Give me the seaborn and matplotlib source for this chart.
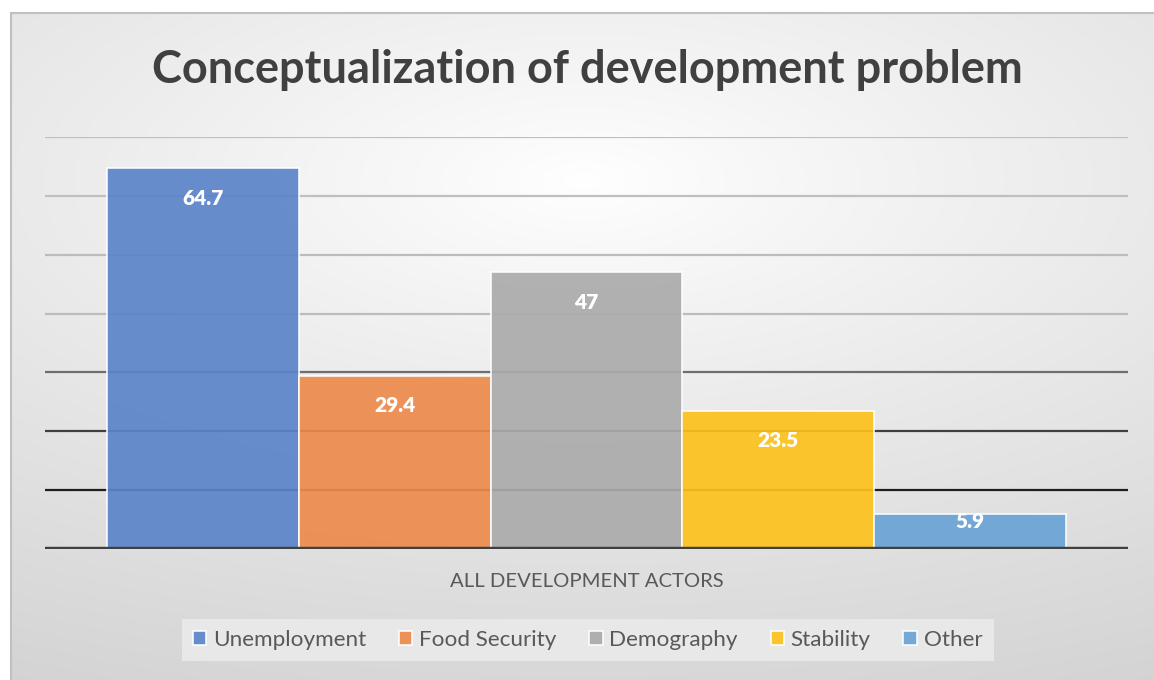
import numpy as np
import pandas as pd
import matplotlib
matplotlib.use("Agg")
import matplotlib.pyplot as plt
import seaborn as sns
from matplotlib.patches import Rectangle

# ---- data ----
group = "ALL DEVELOPMENT ACTORS"
series = ["Unemployment", "Food Security", "Demography", "Stability", "Other"]
values = [64.7, 29.4, 47, 23.5, 5.9]
labels = ["64.7", "29.4", "47", "23.5", "5.9"]
colors = ["#5b84c9", "#ed8b4c", "#ababab", "#fcc21c", "#6aa3d6"]
title = "Conceptualization of development problem"
grid_vals = [10, 20, 30, 40, 50, 60, 70]
grid_colors = ["#1e1e1e", "#404040", "#6e6e6e", "#bcbcbc", "#bcbcbc", "#bfbfbf", "#bfbfbf"]

df = pd.DataFrame({"group": [group] * len(series), "series": series, "value": values})

sns.set_theme(style="white")
plt.rcParams["font.family"] = ["Lato", "DejaVu Sans"]

W, H = 1154, 680
fig = plt.figure(figsize=(W / 100, H / 100), dpi=100)
fig.patch.set_facecolor("white")

# background panel with radial gradient
bg = fig.add_axes([11 / W, 0, 1 - 11 / W, 1 - 13 / H], zorder=0)
ny, nx = 300, 500
yy, xx = np.mgrid[0:ny, 0:nx]
cx, cy = 0.5 * nx, 0.25 * ny
d = np.sqrt(((xx - cx) / nx) ** 2 + ((yy - cy) / (ny * 0.75)) ** 2)
d = np.clip(d / d.max(), 0, 1)
g = 1.0 - 0.17 * d ** 0.9
img = np.dstack([g, g, g])
bg.imshow(img, extent=[0, 1, 0, 1], aspect="auto", origin="upper")
bg.set_xlim(0, 1); bg.set_ylim(0, 1)
bg.axis("off")
bg.add_patch(Rectangle((0, -0.01), 1.01, 1.01, fill=False, edgecolor="#c0c0c0", lw=1.5, transform=bg.transAxes, clip_on=False))

# main axes
ax = fig.add_axes([45 / W, 131 / H, 1083 / W, 412 / H], zorder=2)
ax.patch.set_alpha(0)
for v, c in zip(grid_vals, grid_colors):
    ax.axhline(v, color=c, lw=1.6, zorder=0.5)

sns.barplot(data=df, x="group", y="value", hue="series", hue_order=series,
            palette=colors, width=0.885, saturation=1, ax=ax, alpha=0.92,
            edgecolor=(1, 1, 1, 0.35), linewidth=1.2, zorder=2)
ax.axhline(0, color="#404040", lw=3.2, zorder=4)

ax.set_ylim(0, 70)
ax.set_xlim(-0.5, 0.5)
ax.set_yticks([])
ax.set_xlabel("")
ax.set_ylabel("")
ax.set_xticks([0])
ax.set_xticklabels([group], fontsize=14.6, color="#595959")
ax.tick_params(axis="x", length=0, pad=17)
for s in ax.spines.values():
    s.set_visible(False)

# data labels
px_per_unit = 412 / 70
for cont, lab in zip(ax.containers, labels):
    for bar in cont:
        h = bar.get_height()
        hp = h * px_per_unit
        off_px = min(30, hp - 28)
        ax.annotate(lab, (bar.get_x() + bar.get_width() / 2, h),
                    xytext=(0, -off_px * 0.72), textcoords="offset points",
                    ha="center", va="center", color="white",
                    fontsize=15, fontweight="heavy", zorder=5)

# legend
handles, labs = ax.get_legend_handles_labels()
if ax.get_legend() is not None:
    ax.get_legend().remove()
leg = fig.legend(handles, labs, loc="center", bbox_to_anchor=(587.5 / W, 1 - 640 / H),
                 ncol=5, frameon=True, fancybox=False, fontsize=16.2,
                 handlelength=0.6, handleheight=0.6, handletextpad=0.3,
                 columnspacing=1.45, borderpad=0.5)
leg.get_frame().set_facecolor("#e8e8e8")
leg.get_frame().set_edgecolor("none")
leg.get_frame().set_alpha(1)
for t in leg.get_texts():
    t.set_color("#595959")

fig.text(587.5 / W, 1 - 70 / H, title, ha="center", va="center",
         fontsize=32.5, fontweight="bold", color="#404040")

fig.savefig("out.png", dpi=100)
